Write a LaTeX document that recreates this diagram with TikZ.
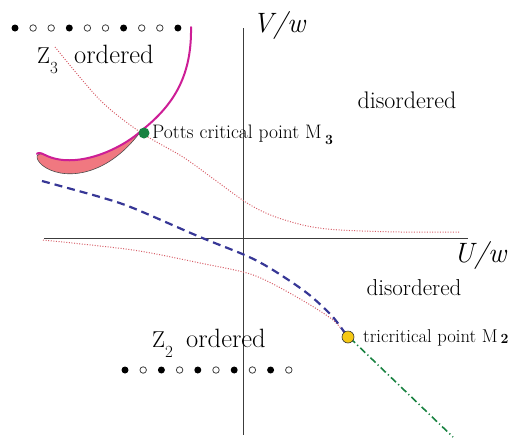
\documentclass[tikz,border=0pt]{standalone}
\definecolor{magentaC}{RGB}{205,30,150}
\definecolor{pinkfill}{RGB}{240,120,128}
\definecolor{navyC}{RGB}{55,55,150}
\definecolor{dotred}{RGB}{215,95,105}
\definecolor{greenC}{RGB}{25,130,65}
\definecolor{yellowC}{RGB}{245,200,20}
\definecolor{axisC}{RGB}{60,60,60}
\tikzset{
  axisline/.style={draw=axisC, line width=0.9pt},
  dotcurve/.style={draw=dotred, line width=1pt, dash pattern=on 1pt off 1.6pt},
  bluedash/.style={draw=navyC, line width=2.2pt, dash pattern=on 8pt off 5pt},
  greendash/.style={draw=greenC, line width=1.6pt, dash pattern=on 7pt off 3pt on 1.2pt off 3pt},
  fulldot/.style={circle, fill=black, inner sep=0pt, minimum size=7pt},
  opendot/.style={circle, draw=black!75, line width=0.8pt, fill=white, inner sep=0pt, minimum size=6.5pt},
  bigtxt/.style={font=\fontsize{24}{26}\selectfont, inner sep=0pt},
  ordtxt/.style={font=\fontsize{26.5}{28}\selectfont, inner sep=0pt, anchor=base west},
  ztxt/.style={font=\fontsize{23}{25}\selectfont, inner sep=0pt, anchor=base west},
  smalltxt/.style={inner sep=0pt, anchor=base west},
  axtxt/.style={font=\fontsize{28}{30}\selectfont\itshape, inner sep=0pt, anchor=base}
}
\begin{document}
\begin{tikzpicture}[x=1pt,y=-1pt]
\useasboundingbox (0,0) rectangle (512,440);
% axes
\coordinate (xl) at (44,238); \coordinate (xr) at (468,238);
\coordinate (yt) at (243,28); \coordinate (yb) at (243,435);
\draw[axisline] (xl) -- (xr);
\draw[axisline] (yt) -- (yb);
\node[axtxt] (vw) at (279,32) {V/w};
\node[axtxt] (uw) at (480,262) {U/w};
% dotted red curves
\draw[dotcurve] plot[smooth] coordinates {(55,47) (100,100) (140,132) (183,157) (215,180) (247,203) (273,216) (307,226) (340,230) (400,232) (460,232)};
\draw[dotcurve] plot[smooth] coordinates {(43,240) (133,250) (200,263) (247,273) (273,284) (307,303) (333,320) (347,336)};
% blue dashed
\draw[bluedash] plot[smooth] coordinates {(42,181) (100,197) (133,208) (200,237) (247,256) (273,270) (307,293) (332,316) (347,336)};
% green dash-dot
\coordinate (gs) at (350,338); \coordinate (ge) at (453,437);
\draw[greendash] (gs) -- (ge);
% pink lobe
\filldraw[fill=pinkfill, draw=black!70, line width=0.6pt] (141,131) .. controls (120,150) and (75,170) .. (45,155) .. controls (36,151) and (34,158) .. (42,165) .. controls (60,180) and (105,180) .. (141,131) -- cycle;
% magenta line
\draw[magentaC, line width=2pt, line cap=round] (191,27) .. controls (192,80) and (170,108) .. (141,131) .. controls (120,150) and (75,170) .. (45,155) .. controls (40,152) and (37,153) .. (37,154);
% critical points
\node[circle, fill=greenC, inner sep=0pt, minimum size=11pt] (m3) at (144,133) {};
\node[circle, fill=yellowC, draw=black!80, line width=0.6pt, inner sep=0pt, minimum size=12pt] (m2) at (348,337) {};
% labels
\node[smalltxt, font=\fontsize{19.5}{21}\selectfont] (pl) at (152,138) {Potts critical point M\,\raisebox{-0.35em}{\fontsize{14}{14}\selectfont\bfseries 3}};
\node[smalltxt, font=\fontsize{18.6}{20}\selectfont] (tl) at (363,342) {tricritical point M\,\raisebox{-0.1em}{\fontsize{14}{14}\selectfont\bfseries 2}};
\node[bigtxt] (d1) at (407,100) {disordered};
\node[bigtxt, font=\fontsize{23}{25}\selectfont] (d2) at (414,288) {disordered};
\node[ztxt] (z3) at (37,63) {Z\raisebox{-0.45em}{\fontsize{17}{17}\selectfont 3}};
\node[ordtxt] (o3) at (74,63) {ordered};
\node[ztxt] (z2) at (152,347) {Z\raisebox{-0.45em}{\fontsize{17}{17}\selectfont 2}};
\node[ordtxt] (o2) at (186,347) {ordered};
% top chain
\foreach \i/\t in {0/fulldot,1/opendot,2/opendot,3/fulldot,4/opendot,5/opendot,6/fulldot,7/opendot,8/opendot,9/fulldot}
  \node[\t] (ta\i) at ({15+18.1*\i},28) {};
% bottom chain
\foreach \i/\t in {0/fulldot,1/opendot,2/fulldot,3/opendot,4/fulldot,5/opendot,6/fulldot,7/opendot,8/fulldot,9/opendot}
  \node[\t] (ba\i) at ({125+18.2*\i},370) {};
\end{tikzpicture}
\end{document}
